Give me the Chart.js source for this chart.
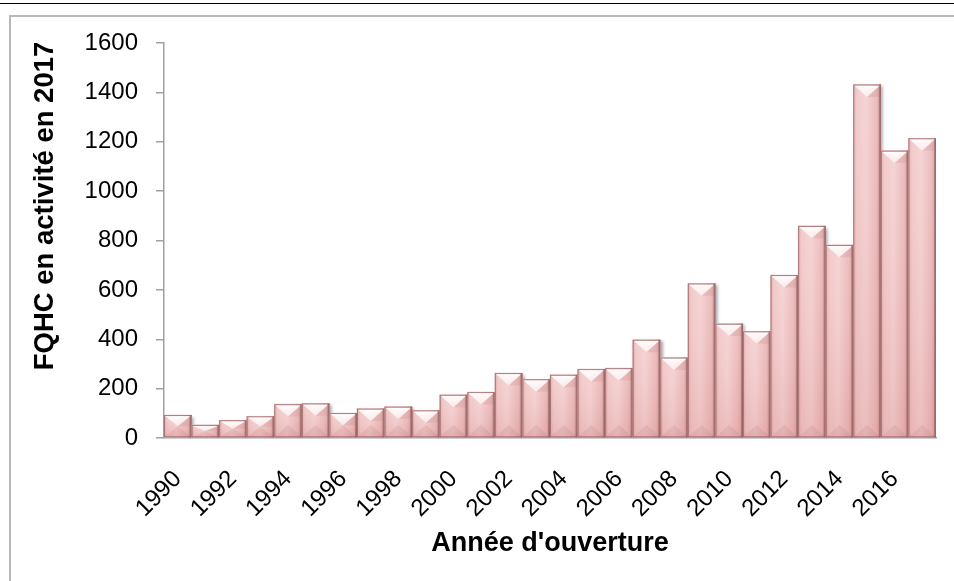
<!DOCTYPE html>
<html><head><meta charset="utf-8">
<script src="https://cdn.jsdelivr.net/npm/chart.js@4"></script>
<style>
html,body{margin:0;padding:0;background:#fff;}
#wrap{position:relative;width:954px;height:581px;overflow:hidden;background:#fff;}
#topline{position:absolute;left:0;top:3px;width:954px;height:1px;background:#000;}
#frame{position:absolute;left:9px;top:15px;width:1000px;height:700px;border-left:2px solid #b8b8b8;border-top:2px solid #b8b8b8;}
canvas{position:absolute;left:0;top:0;}
</style></head><body>
<div id="wrap"><div id="topline"></div><div id="frame"></div><canvas id="c" width="954" height="581"></canvas></div>
<script>
const years = ['1990','1991','1992','1993','1994','1995','1996','1997','1998','1999','2000','2001','2002','2003','2004','2005','2006','2007','2008','2009','2010','2011','2012','2013','2014','2015','2016','2017'];
const fqhcCounts = [93,53,72,88,137,140,101,119,127,112,175,186,263,238,256,279,283,398,326,626,463,432,660,859,782,1432,1164,1214];
const yTickValues = [0,200,400,600,800,1000,1200,1400,1600];
const xTitle = "Année d'ouverture";
const yTitle = "FQHC en activité en 2017";

const FONT = "'Liberation Sans', Arial, sans-serif";

const bevelPlugin = {
  id: 'bevel',
  beforeDatasetDraw(chart) {
    const ctx = chart.ctx;
    ctx.save();
    ctx.shadowColor = 'rgba(0,0,0,0.35)';
    ctx.shadowOffsetX = 2;
    ctx.shadowOffsetY = 2;
    ctx.shadowBlur = 3;
  },
  afterDatasetDraw(chart) {
    const ctx = chart.ctx;
    ctx.restore();
    const meta = chart.getDatasetMeta(0);
    meta.data.forEach(el => {
      const p = el.getProps(['x','y','base','width'], true);
      const l = p.x - p.width/2, r = p.x + p.width/2, t = p.y, b = p.base;
      const h = b - t;
      ctx.save();
      const g = ctx.createLinearGradient(l, 0, r, 0);
      g.addColorStop(0, '#DFA6A6');
      g.addColorStop(0.12, '#F1C5C5');
      g.addColorStop(0.45, '#F5D0D0');
      g.addColorStop(0.85, '#EAB5B5');
      g.addColorStop(1, '#C58E8E');
      ctx.fillStyle = g;
      ctx.fillRect(l, t, p.width, h);
      const gv = ctx.createLinearGradient(0, t, 0, b);
      gv.addColorStop(0, 'rgba(255,255,255,0.10)');
      gv.addColorStop(1, 'rgba(200,120,120,0.20)');
      ctx.fillStyle = gv;
      ctx.fillRect(l, t, p.width, h);
      const d = Math.min(p.width * 0.45, h / 2);
      const gt = ctx.createLinearGradient(0, t, 0, t + d);
      gt.addColorStop(0, 'rgba(255,255,255,0.98)');
      gt.addColorStop(1, 'rgba(255,255,255,0.55)');
      ctx.fillStyle = gt;
      ctx.beginPath();
      ctx.moveTo(l + 1, t + 1); ctx.lineTo(r - 1, t + 1); ctx.lineTo(p.x, t + d); ctx.closePath();
      ctx.fill();
      ctx.fillStyle = 'rgba(190,120,120,0.18)';
      ctx.beginPath();
      ctx.moveTo(r - 1, t + 1); ctx.lineTo(r, t + d); ctx.lineTo(p.x, t + d); ctx.closePath();
      ctx.fill();
      ctx.fillStyle = 'rgba(180,100,100,0.14)';
      ctx.beginPath();
      ctx.moveTo(l, b); ctx.lineTo(r, b); ctx.lineTo(p.x, b - d); ctx.closePath();
      ctx.fill();
      ctx.fillStyle = 'rgba(130,80,80,0.45)';
      ctx.fillRect(r - 2, t, 2, h);
      ctx.strokeStyle = 'rgba(150,100,100,0.75)';
      ctx.lineWidth = 1;
      ctx.strokeRect(l + 0.5, t + 0.5, p.width - 1, h - 1);
      ctx.restore();
    });
  }
};

const yTitlePlugin = {
  id: 'yTitle',
  afterDraw(chart) {
    const ctx = chart.ctx;
    ctx.save();
    ctx.translate(45, 206);
    ctx.rotate(-Math.PI / 2);
    ctx.font = "bold 27.5px " + FONT;
    ctx.fillStyle = '#000';
    ctx.textAlign = 'center';
    ctx.textBaseline = 'middle';
    ctx.fillText(yTitle, 0, 0);
    ctx.restore();
  }
};

new Chart(document.getElementById('c'), {
  type: 'bar',
  data: {
    labels: years,
    datasets: [{
      data: fqhcCounts,
      backgroundColor: '#F0C2C2',
      borderWidth: 0,
      barPercentage: 1.0,
      categoryPercentage: 1.0
    }]
  },
  options: {
    responsive: false,
    animation: false,
    layout: { padding: { left: 0, right: 18, top: 43, bottom: 0 } },
    plugins: { legend: { display: false }, tooltip: { enabled: false } },
    scales: {
      x: {
        afterFit(s) { s.height = 143; s.paddingLeft = 0; s.paddingRight = 0; },
        grid: { drawOnChartArea: false, drawTicks: false },
        border: { color: '#A0A0A0', width: 1.5 },
        ticks: {
          autoSkip: false, minRotation: 45, maxRotation: 45, padding: 27,
          color: '#000', font: { family: FONT, size: 24 },
          callback(v, i) { return i % 2 === 0 ? years[i] : ''; }
        },
        title: {
          display: true, text: xTitle, color: '#000',
          font: { family: FONT, size: 27, weight: 'bold' },
          padding: { top: 0, bottom: 21 }
        }
      },
      y: {
        min: 0, max: 1600,
        afterFit(s) { s.width = 164; s.paddingTop = 0; s.paddingBottom = 0; },
        afterBuildTicks(s) { s.ticks = yTickValues.map(v => ({ value: v })); },
        grid: { drawOnChartArea: false, drawTicks: true, tickLength: 8, color: '#A0A0A0', lineWidth: 1.5 },
        border: { color: '#A0A0A0', width: 1.5 },
        ticks: { padding: 18, color: '#000', font: { family: FONT, size: 24 }, callback(v) { return String(v); } }
      }
    }
  },
  plugins: [bevelPlugin, yTitlePlugin]
});
</script>
</body></html>
